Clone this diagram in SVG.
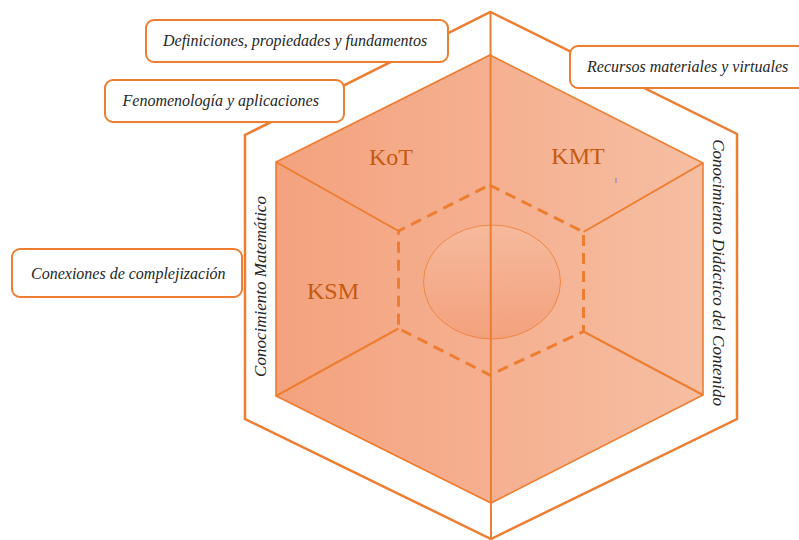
<svg xmlns="http://www.w3.org/2000/svg" width="799" height="540" viewBox="0 0 799 540">
  <style>
    .frame { fill: none; stroke: #ED7D31; stroke-width: 2.5; stroke-linejoin: miter; }
    .hex { fill: url(#hexFill); stroke: #ED7D31; stroke-width: 1.6; }
    .spoke { fill: none; stroke: #ED7D31; stroke-width: 2; }
    .dash { fill: none; stroke: #ED7D31; stroke-width: 3; stroke-dasharray: 11 7; }
    .box { fill: #ffffff; stroke: #ED7D31; stroke-width: 2; }
    .boxtext { font-style: italic; font-size: 16px; fill: #262626; }
    .side { font-style: italic; font-size: 17px; fill: #262626; text-anchor: middle; }
    .kname { font-size: 24px; fill: #C55A11; text-anchor: middle; }
  </style>
  <defs>
    <linearGradient id="hexFill" x1="276" y1="0" x2="703" y2="0" gradientUnits="userSpaceOnUse">
      <stop offset="0" stop-color="#F4A27E"/>
      <stop offset="1" stop-color="#F6BEA2"/>
    </linearGradient>
    <linearGradient id="coreFill" x1="0" y1="0" x2="0" y2="1">
      <stop offset="0" stop-color="#F6BA9D"/>
      <stop offset="1" stop-color="#F3A17D"/>
    </linearGradient>
  </defs>

  <rect width="799" height="540" fill="#ffffff"/>

  <g id="outer-frame">
    <polygon class="frame" points="490.5,12 737,134 737,419 491,539 245,419 245,135"/>
  </g>

  <g id="inner-hexagon">
    <polygon class="hex" points="490,55 703,163 703,395 491,503 276,396 276,162"/>
  </g>

  <g id="core">
    <ellipse cx="492" cy="282" rx="68.5" ry="57" fill="url(#coreFill)" stroke="#ED7D31" stroke-width="1" stroke-opacity="0.8"/>
  </g>

  <g id="connectors">
    <polygon class="dash" points="489.5,185 583.5,232 583.5,331.5 490,375 398.5,328.5 398.5,231"/>
    <line class="spoke" x1="276" y1="162" x2="398.5" y2="231"/>
    <line class="spoke" x1="276" y1="396" x2="398.5" y2="328.5"/>
    <line class="spoke" x1="703" y1="163" x2="583.5" y2="232"/>
    <line class="spoke" x1="703" y1="395" x2="583.5" y2="331.5"/>
    <line class="spoke" x1="490.5" y1="12" x2="491" y2="539"/>
  </g>

  <g id="knowledge-labels" font-family="Liberation Serif, Times New Roman, serif">
    <text class="kname" x="391" y="165">KoT</text>
    <text class="kname" x="578" y="164">KMT</text>
    <text class="kname" x="333" y="299">KSM</text>
    <line x1="616" y1="178" x2="616" y2="183" stroke="#6B7BD0" stroke-width="1"/>
  </g>

  <g id="side-labels" font-family="Liberation Serif, Times New Roman, serif">
    <text class="side" transform="translate(266,286.5) rotate(-90)">Conocimiento Matemático</text>
    <text class="side" transform="translate(713,272.5) rotate(90)">Conocimiento Didáctico del Contenido</text>
  </g>

  <g id="box-definiciones" font-family="Liberation Serif, Times New Roman, serif">
    <rect class="box" x="146" y="20" width="302" height="42" rx="8"/>
    <text class="boxtext" x="163" y="46">Definiciones, propiedades y fundamentos</text>
  </g>
  <g id="box-fenomenologia" font-family="Liberation Serif, Times New Roman, serif">
    <rect class="box" x="105" y="80" width="239" height="42" rx="8"/>
    <text class="boxtext" x="122.5" y="105.5">Fenomenología y aplicaciones</text>
  </g>
  <g id="box-recursos" font-family="Liberation Serif, Times New Roman, serif">
    <rect class="box" x="570" y="46" width="245" height="42" rx="8"/>
    <text class="boxtext" x="587" y="72">Recursos materiales y virtuales</text>
  </g>
  <g id="box-conexiones" font-family="Liberation Serif, Times New Roman, serif">
    <rect class="box" x="12" y="249" width="230" height="48" rx="8"/>
    <text class="boxtext" x="31" y="279">Conexiones de complejización</text>
  </g>
</svg>
